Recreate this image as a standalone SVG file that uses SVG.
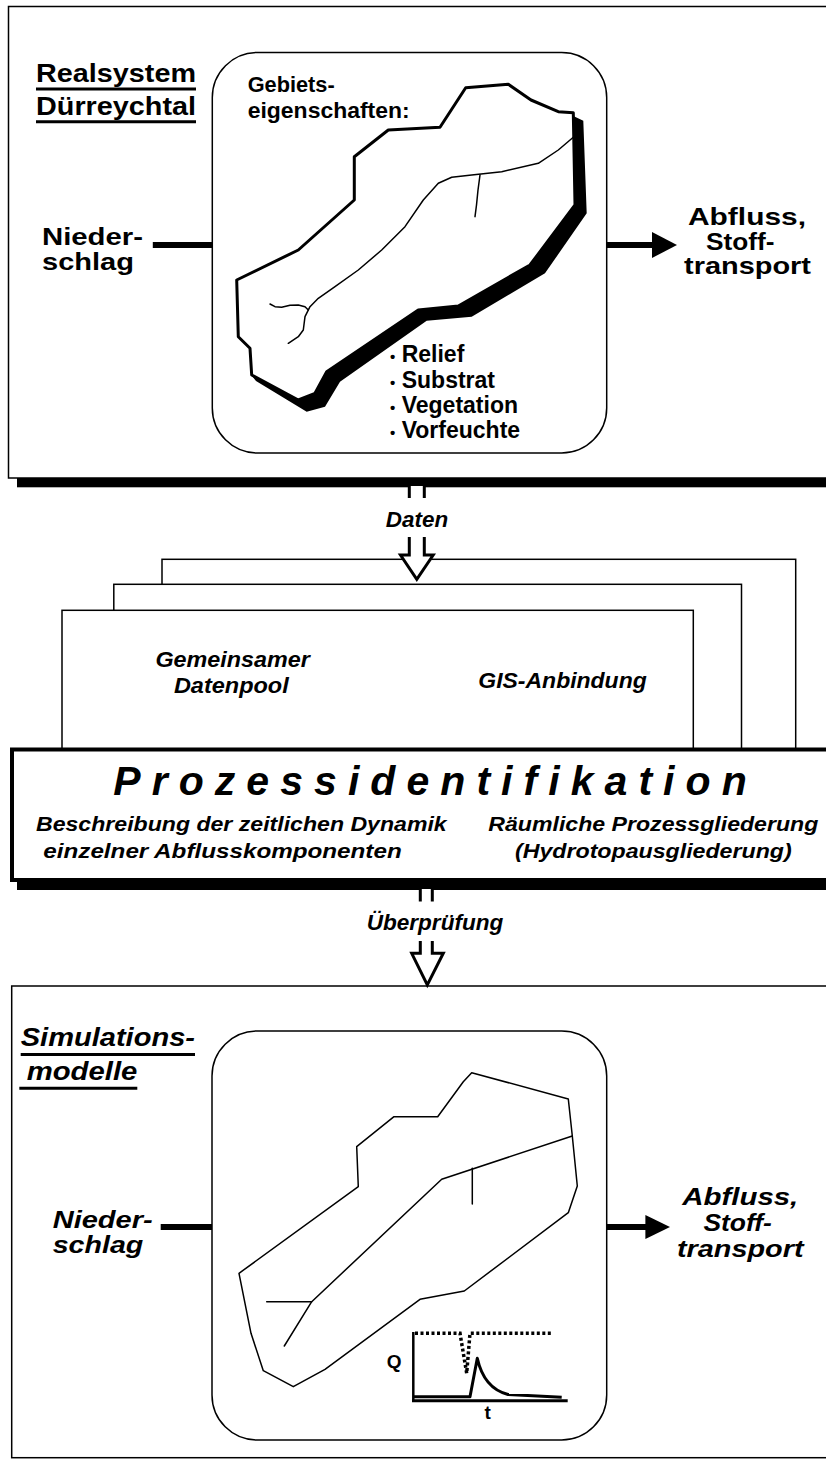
<svg xmlns="http://www.w3.org/2000/svg" width="826" height="1459" viewBox="0 0 826 1459">
<style>
.t{font-family:"Liberation Sans",Arial,sans-serif;font-weight:bold;fill:#000}
.i{font-style:italic}
.f{fill:#fff;stroke:#000;stroke-width:1.5}
.thin{fill:none;stroke:#000;stroke-width:1.5;stroke-linejoin:round;stroke-linecap:round}
.ul{stroke:#000;stroke-width:3}
</style>
<rect width="826" height="1459" fill="#fff"/>

<g id="frame-realsystem">
<rect x="17" y="15" width="820" height="472.3" fill="#000"/>
<rect x="8.5" y="6.5" width="830" height="471.5" class="f"/>
<text class="t" x="36" y="81.7" font-size="26" textLength="160" lengthAdjust="spacingAndGlyphs">Realsystem</text>
<line class="ul" x1="36" y1="89" x2="196" y2="89"/>
<text class="t" x="36" y="115" font-size="26" textLength="160" lengthAdjust="spacingAndGlyphs">Dürreychtal</text>
<line class="ul" x1="36" y1="121.7" x2="196" y2="121.7"/>
</g>

<g id="node-niederschlag-top">
<text class="t" x="42" y="245" font-size="24" textLength="101" lengthAdjust="spacingAndGlyphs">Nieder-</text>
<text class="t" x="42" y="270" font-size="24" textLength="92" lengthAdjust="spacingAndGlyphs">schlag</text>
</g>

<g id="node-catchment-top">
<rect x="212.3" y="52.5" width="394.4" height="400.5" rx="45" ry="45" class="f"/>
<text class="t" x="247.7" y="91.7" font-size="22" textLength="87" lengthAdjust="spacingAndGlyphs">Gebiets-</text>
<text class="t" x="247.7" y="118.3" font-size="22" textLength="162" lengthAdjust="spacingAndGlyphs">eigenschaften:</text>
<polygon points="573.3,116 575,205 530,265 458.3,306 418.3,310 326.7,371.7 315,393.3 298.3,400 252,376 256,381 306.7,411.7 325,406.7 340,381.7 426.7,320.7 471.7,316.7 545,273.3 586.7,213.3 583.3,120.7" fill="#000"/>
<polygon points="465.7,87.7 508.3,84.3 531,100 558.3,111.7 573.3,112.7 575,205 530,265 458.3,306 418.3,310 326.7,371.7 315,393.3 298.3,400 251.7,375 250,348.3 238.3,336.7 236.7,280 298.3,250 354.3,200 354.3,156.7 388.3,130 440,127.3" fill="none" stroke="#000" stroke-width="3" stroke-linejoin="round"/>
<polyline class="thin" points="573.3,137.3 558.3,150 538.3,163.3 501.7,171.7 471.7,175 451.7,177.3 438.3,183.3 423.3,200 405,226.7 381.7,250 358.3,270 335,286.7 318.3,298.3 310,306.7 305,316.7 303.3,330 298.3,336.7 288.3,343.3"/>
<polyline class="thin" points="270,304 275,306.7 281.7,307.3 290,305.3 298.3,305 305,306.7 308.3,310"/>
<polyline class="thin" points="480,175 478,190 476.5,205 475,216.7"/>
<text class="t" font-size="23"><tspan x="390" y="361.7" font-size="15">•</tspan><tspan x="401.7" y="361.7">Relief</tspan></text>
<text class="t" font-size="23"><tspan x="390" y="388.3" font-size="15">•</tspan><tspan x="401.7" y="388.3">Substrat</tspan></text>
<text class="t" font-size="23"><tspan x="390" y="413.3" font-size="15">•</tspan><tspan x="401.7" y="413.3">Vegetation</tspan></text>
<text class="t" font-size="23"><tspan x="390" y="438.3" font-size="15">•</tspan><tspan x="401.7" y="438.3">Vorfeuchte</tspan></text>
</g>

<g id="node-abfluss-top">
<text class="t" x="688" y="225" font-size="24" textLength="118" lengthAdjust="spacingAndGlyphs">Abfluss,</text>
<text class="t" x="706" y="249.5" font-size="24" textLength="68.5" lengthAdjust="spacingAndGlyphs">Stoff-</text>
<text class="t" x="684" y="274" font-size="24" textLength="127" lengthAdjust="spacingAndGlyphs">transport</text>
</g>

<g id="node-datenpool">
<rect x="162" y="559.3" width="633.7" height="200" class="f"/>
<rect x="113.8" y="584.3" width="627.7" height="180" class="f"/>
<rect x="62" y="610.3" width="631.3" height="150" class="f"/>
<text class="t i" x="155.4" y="666.7" font-size="22" textLength="154.4" lengthAdjust="spacingAndGlyphs">Gemeinsamer</text>
<text class="t i" x="173.9" y="693.3" font-size="22" textLength="114.8" lengthAdjust="spacingAndGlyphs">Datenpool</text>
<text class="t i" x="478.3" y="688.3" font-size="22" textLength="168.4" lengthAdjust="spacingAndGlyphs">GIS-Anbindung</text>
</g>

<g id="node-prozessidentifikation">
<rect x="17" y="757" width="820" height="133" fill="#000"/>
<rect x="12" y="749.5" width="830" height="130.5" fill="#fff" stroke="#000" stroke-width="4"/>
<text class="t i" x="113.3" y="795" font-size="41" textLength="633.4" lengthAdjust="spacing">Prozessidentifikation</text>
<text class="t i" x="36" y="830.5" font-size="21" textLength="410.7" lengthAdjust="spacingAndGlyphs">Beschreibung der zeitlichen Dynamik</text>
<text class="t i" x="43.3" y="858.3" font-size="21" textLength="358.4" lengthAdjust="spacingAndGlyphs">einzelner Abflusskomponenten</text>
<text class="t i" x="488.3" y="830.5" font-size="21" textLength="330" lengthAdjust="spacingAndGlyphs">Räumliche Prozessgliederung</text>
<text class="t i" x="515" y="858.3" font-size="21" textLength="276.7" lengthAdjust="spacingAndGlyphs">(Hydrotopausgliederung)</text>
</g>

<g id="frame-simulationsmodelle">
<rect x="11.7" y="986" width="830" height="471.7" class="f"/>
<text class="t i" x="20.7" y="1046" font-size="26" textLength="174.3" lengthAdjust="spacingAndGlyphs">Simulations-</text>
<line class="ul" x1="20.7" y1="1054.5" x2="195" y2="1054.5"/>
<text class="t i" x="26.7" y="1080" font-size="26" textLength="110.6" lengthAdjust="spacingAndGlyphs">modelle</text>
<line class="ul" x1="19.3" y1="1088.3" x2="137.3" y2="1088.3"/>
</g>

<g id="node-niederschlag-bottom">
<text class="t i" x="52.7" y="1228" font-size="24" textLength="100" lengthAdjust="spacingAndGlyphs">Nieder-</text>
<text class="t i" x="52.7" y="1253" font-size="24" textLength="90.6" lengthAdjust="spacingAndGlyphs">schlag</text>
</g>

<g id="node-catchment-bottom">
<rect x="212" y="1031" width="394.7" height="409" rx="45" ry="45" class="f"/>
<polygon class="thin" points="471.7,1072.7 568.3,1099 572.3,1136 577.3,1186 568.3,1212.7 464.3,1291 420,1299.3 325,1369.3 293.3,1386.7 263.3,1370.7 251,1333.3 239,1273.3 358.3,1186.7 356.7,1146.7 394,1116.7 437.7,1116.7 463.3,1081.7"/>
<polyline class="thin" points="572.3,1136 441.7,1179.3 311.7,1301.7 284.3,1346"/>
<line class="thin" x1="266.7" y1="1301.7" x2="311.7" y2="1301.7"/>
<line class="thin" x1="472.3" y1="1168.3" x2="472.3" y2="1204"/>
<g id="hydrograph">
<line x1="413.3" y1="1332" x2="413.3" y2="1401" stroke="#000" stroke-width="2.5"/>
<line x1="412" y1="1400.7" x2="567.7" y2="1400.7" stroke="#000" stroke-width="3"/>
<path d="M415,1333.3 H460 L466.7,1373.3 L470,1333.3 H552" fill="none" stroke="#000" stroke-width="3.5" stroke-dasharray="3,2.5"/>
<path d="M414,1396.7 H470 L477.3,1358.3 C481,1375 490,1390 508,1394.5 L561.7,1397.3" fill="none" stroke="#000" stroke-width="3" stroke-linejoin="round"/>
<text class="t" x="386.7" y="1368.3" font-size="19">Q</text>
<text class="t" x="487.7" y="1419.3" font-size="19" text-anchor="middle">t</text>
</g>
</g>

<g id="node-abfluss-bottom">
<text class="t i" x="682.3" y="1205" font-size="24" textLength="116" lengthAdjust="spacingAndGlyphs">Abfluss,</text>
<text class="t i" x="703.4" y="1231" font-size="24" textLength="68.5" lengthAdjust="spacingAndGlyphs">Stoff-</text>
<text class="t i" x="677" y="1257" font-size="24" textLength="126.5" lengthAdjust="spacingAndGlyphs">transport</text>
</g>

<g id="connectors">
<line x1="152.8" y1="245" x2="212.3" y2="245" stroke="#000" stroke-width="6"/>
<line x1="606.7" y1="245" x2="655" y2="245" stroke="#000" stroke-width="6"/>
<polygon points="652,232 677,245 652,258" fill="#000"/>
<path d="M409.3,486 V555 H400.5 L416.8,579.3 L433.2,555 H424.3 V486" fill="#fff" stroke="#000" stroke-width="3" stroke-linejoin="miter"/>
<rect x="398" y="498" width="40" height="39" fill="#fff"/>
<text class="t i" x="417" y="526.7" font-size="22" text-anchor="middle" textLength="62.3" lengthAdjust="spacingAndGlyphs">Daten</text>
<path d="M420.3,889 V953.3 H411.7 L427.3,985 L443.3,953.3 H432.3 V889" fill="#fff" stroke="#000" stroke-width="3" stroke-linejoin="miter"/>
<rect x="410" y="901.5" width="35" height="39.5" fill="#fff"/>
<text class="t i" x="435" y="929.5" font-size="22" text-anchor="middle" textLength="136.6" lengthAdjust="spacingAndGlyphs">Überprüfung</text>
<line x1="160.7" y1="1227" x2="212" y2="1227" stroke="#000" stroke-width="6"/>
<line x1="606.7" y1="1227" x2="648" y2="1227" stroke="#000" stroke-width="6"/>
<polygon points="645.4,1215 670,1227 645.4,1239" fill="#000"/>
</g>
</svg>
